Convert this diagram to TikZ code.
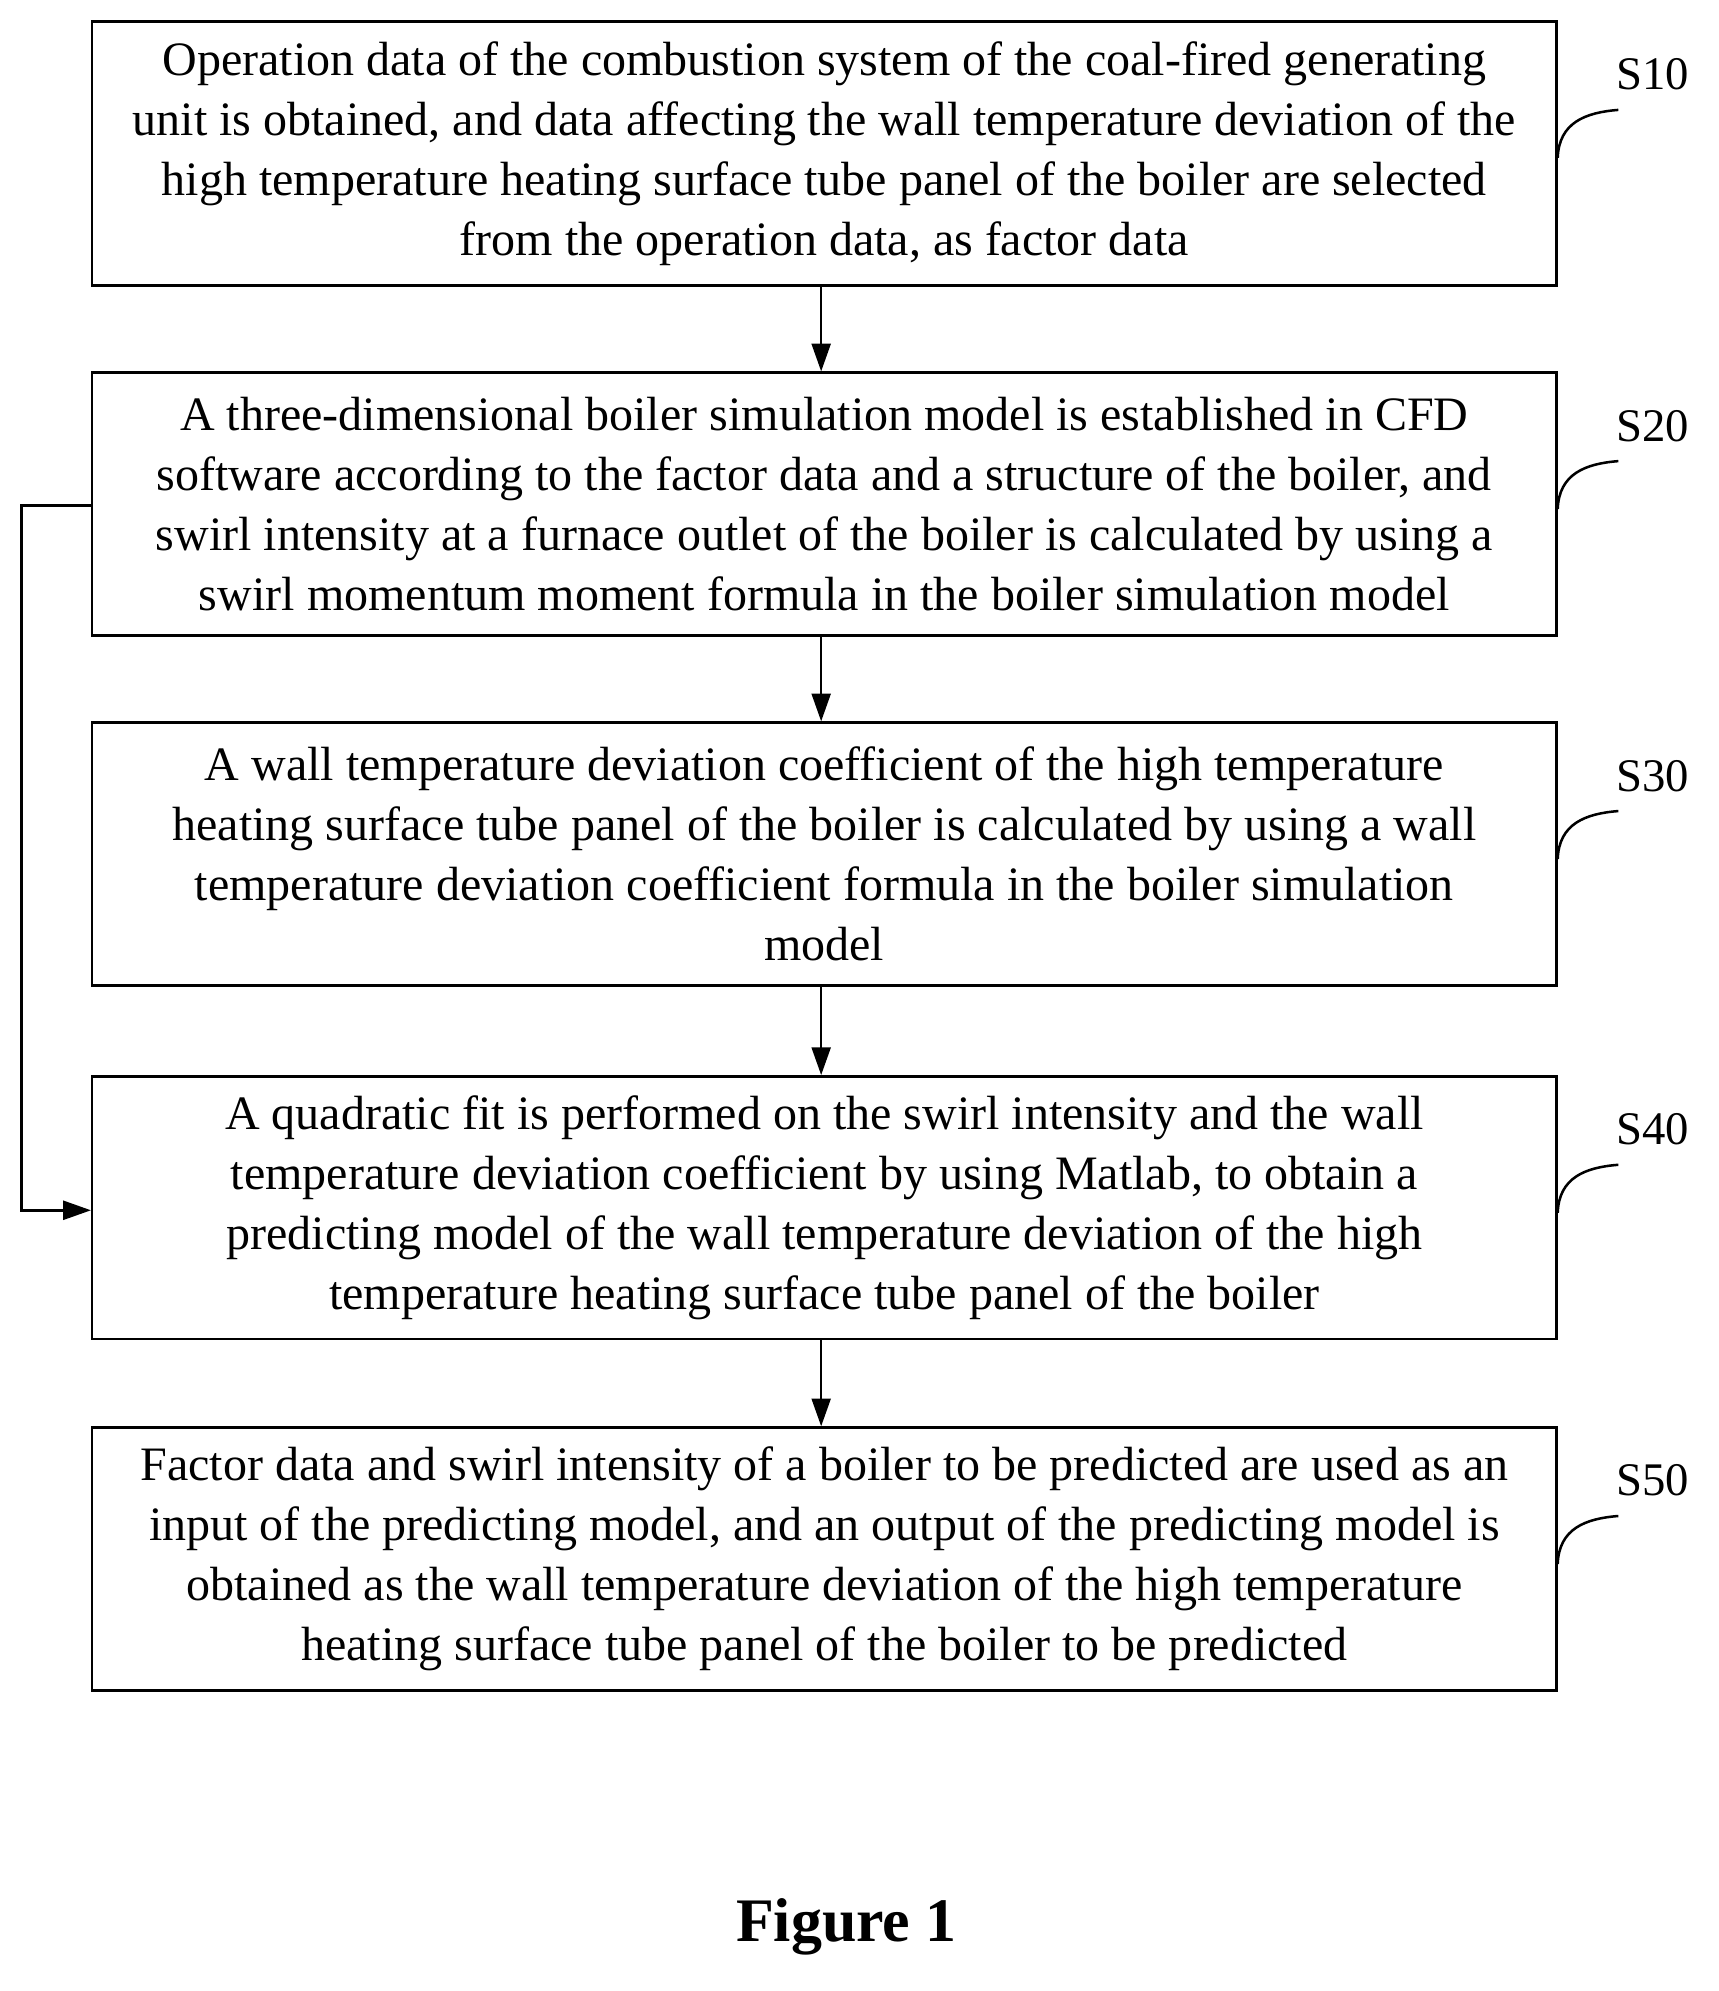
\documentclass[tikz,border=0pt]{standalone}
\usepackage{fontspec}
\setmainfont{Liberation Serif}
\usetikzlibrary{arrows.meta}
\begin{document}
\begin{tikzpicture}[x=1pt,y=-1pt,
  box/.style={draw,line width=2pt,minimum width=1159pt,align=center,font=\fontsize{38}{47.5}\selectfont,inner sep=0pt},
  lab/.style={font=\fontsize{37}{40}\selectfont},
  arr/.style={line width=2pt,-{Triangle[length=22pt,width=15pt]}}]
\useasboundingbox (0,0) rectangle (1360,1576);
\node[box,minimum height=209pt] (b1) at (652.5,121.5) {Operation data of the combustion system of the coal-fired generating\\unit is obtained, and data affecting the wall temperature deviation of the\\high temperature heating surface tube panel of the boiler are selected\\from the operation data, as factor data};
\node[box,minimum height=208pt] (b2) at (652.5,399) {A three-dimensional boiler simulation model is established in CFD\\software according to the factor data and a structure of the boiler, and\\swirl intensity at a furnace outlet of the boiler is calculated by using a\\swirl momentum moment formula in the boiler simulation model};
\node[box,minimum height=208pt] (b3) at (652.5,676) {A wall temperature deviation coefficient of the high temperature\\heating surface tube panel of the boiler is calculated by using a wall\\temperature deviation coefficient formula in the boiler simulation\\model};
\node[box,minimum height=208pt] (b4) at (652.5,956) {A quadratic fit is performed on the swirl intensity and the wall\\temperature deviation coefficient by using Matlab, to obtain a\\predicting model of the wall temperature deviation of the high\\temperature heating surface tube panel of the boiler};
\node[box,minimum height=208pt] (b5) at (652.5,1234) {Factor data and swirl intensity of a boiler to be predicted are used as an\\input of the predicting model, and an output of the predicting model is\\obtained as the wall temperature deviation of the high temperature\\heating surface tube panel of the boiler to be predicted};
\draw[arr] (b1.south -| 650,0) -- (b2.north -| 650,0);
\draw[arr] (b2.south -| 650,0) -- (b3.north -| 650,0);
\draw[arr] (b3.south -| 650,0) -- (b4.north -| 650,0);
\draw[arr] (b4.south -| 650,0) -- (b5.north -| 650,0);
\coordinate (l2) at (b2.west |- 0,400);
\coordinate (l4) at (b4.west |- 0,958);
\draw[arr] (l2) -- (17,400) -- (17,958) -- (l4);
\foreach \n/\y/\t in {b1/17/S10,b2/295/S20,b3/572/S30,b4/852/S40,b5/1130/S50}{
  \node[lab] (\n l) at (1308,\y+42) {\t};
  \draw[line width=2pt] (1233,\y+108) .. controls (1234,\y+80) and (1255,\y+72) .. (1281,\y+70);
}
\node[font=\bfseries\fontsize{49}{55}\selectfont] (fig) at (670,1525) {Figure 1};
\end{tikzpicture}
\end{document}
